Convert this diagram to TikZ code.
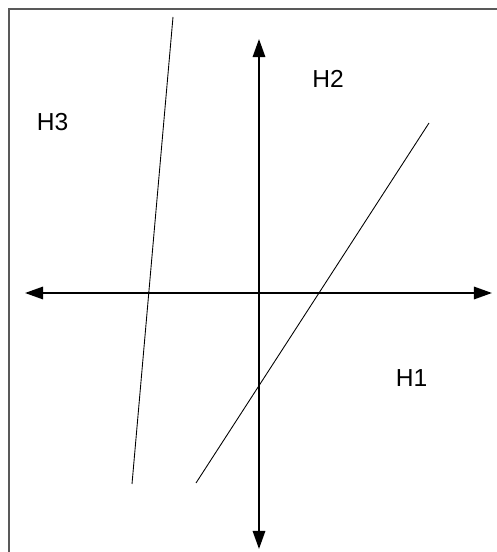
\documentclass[tikz,border=0pt]{standalone}
\usepackage{fontspec}
\setmainfont{Liberation Sans}
\usetikzlibrary{arrows.meta,positioning}

\tikzset{
	axis/.style={line width=0.9pt, {Triangle[length=0.36cm, width=0.25cm]}-{Triangle[length=0.36cm, width=0.25cm]}},
	hyper/.style={line width=0.5pt},
	frameline/.style={line width=0.6pt, black!65},
	region/.style={inner sep=0pt, font=\fontsize{14}{16}\selectfont},
}

\begin{document}
\begin{tikzpicture}[x=0.02cm, y=0.02cm]
	\useasboundingbox (0,0) rectangle (497,552);
	% 1. 外框 (只有上边和左边)
	\coordinate (f1) at (9,0);
	\coordinate (f2) at (9,543);
	\coordinate (f3) at (497,543);
	\draw[frameline] (f1) -- (f2) -- (f3);
	
	% 2. 原点与坐标轴端点
	\coordinate (o) at (259,259);
	\coordinate [left=4.68cm of o] (xl);
	\coordinate [right=4.66cm of o] (xr);
	\coordinate [above=5.08cm of o] (yt);
	\coordinate [below=5.12cm of o] (yb);
	
	% 3. 两条直线的端点
	\coordinate (a3) at (173,535);
	\coordinate (b3) at (132,68);
	\coordinate (a1) at (429,429);
	\coordinate (b1) at (196,69);
	
	% 4. 区域标签
	\node [region] (h3) at (52.5,429.5) {H3};
	\node [region] (h2) at (328,473) {H2};
	\node [region] (h1) at (411.5,173.5) {H1};
	
	% 5. 绘制
	\draw[axis] (xl) -- (xr);
	\draw[axis] (yb) -- (yt);
	\draw[hyper] (a3) -- (b3);
	\draw[hyper] (a1) -- (b1);
\end{tikzpicture}
\end{document}
